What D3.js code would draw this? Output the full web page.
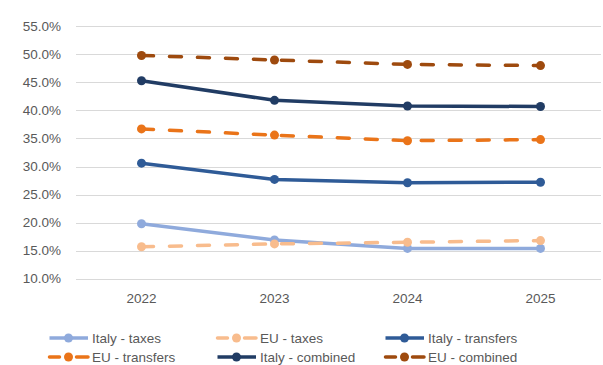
<!DOCTYPE html>
<meta charset="utf-8">
<style>
body { margin: 0; background: #fff; }
text { font-family: "Liberation Sans", Arial, sans-serif; fill: #595959; }
.grid line { stroke: #d9d9d9; stroke-width: 1; }
.series { fill: none; stroke-width: 3.5; stroke-linejoin: round; }
</style>
<svg width="603" height="365"></svg>
<script src="https://cdnjs.cloudflare.com/ajax/libs/d3/7.8.5/d3.min.js"></script>
<script>

var years = ["2022", "2023", "2024", "2025"];
var yTicks = [10, 15, 20, 25, 30, 35, 40, 45, 50, 55];

var italyTaxes     = [19.8, 16.9, 15.4, 15.4];
var euTaxes        = [15.7, 16.2, 16.5, 16.8];
var italyTransfers = [30.6, 27.7, 27.1, 27.2];
var euTransfers    = [36.7, 35.6, 34.6, 34.8];
var italyCombined  = [45.3, 41.8, 40.8, 40.7];
var euCombined     = [49.8, 49.0, 48.2, 48.0];

var seriesNames = ["Italy - taxes", "EU - taxes", "Italy - transfers",
                   "EU - transfers", "Italy - combined", "EU - combined"];

var series = [
  { name: seriesNames[0], values: italyTaxes,     color: "#8faadc", dashed: false },
  { name: seriesNames[1], values: euTaxes,        color: "#f8bc8d", dashed: true },
  { name: seriesNames[2], values: italyTransfers, color: "#2f5b97", dashed: false },
  { name: seriesNames[3], values: euTransfers,    color: "#ea7419", dashed: true },
  { name: seriesNames[4], values: italyCombined,  color: "#213c64", dashed: false },
  { name: seriesNames[5], values: euCombined,     color: "#9e4a0e", dashed: true }
];

var svg = d3.select("svg");

var x = d3.scaleBand()
    .domain(years)
    .range([75, 607]);

var y = d3.scaleLinear()
    .domain([10, 55])
    .range([278.7, 26.3]);

var cx = function(d, i) { return x(years[i]) + x.bandwidth() / 2; };

// gridlines
svg.append("g")
    .attr("class", "grid")
    .selectAll("line")
    .data(yTicks)
    .enter()
    .append("line")
    .attr("x1", 76)
    .attr("x2", 601)
    .attr("y1", function(d) { return Math.round(y(d)) + 0.5; })
    .attr("y2", function(d) { return Math.round(y(d)) + 0.5; });

// y axis labels
svg.append("g")
    .selectAll("text")
    .data(yTicks)
    .enter()
    .append("text")
    .attr("x", 61)
    .attr("y", function(d) { return y(d); })
    .attr("dy", "0.35em")
    .attr("text-anchor", "end")
    .style("font-size", "13.5px")
    .text(function(d) { return d3.format(".1f")(d) + "%"; });

// x axis labels
svg.append("g")
    .selectAll("text")
    .data(years)
    .enter()
    .append("text")
    .attr("x", function(d) { return x(d) + x.bandwidth() / 2; })
    .attr("y", 298)
    .attr("dy", "0.35em")
    .attr("text-anchor", "middle")
    .style("font-size", "13.5px")
    .text(function(d) { return d; });

var line = d3.line()
    .x(cx)
    .y(function(d) { return y(d); });

var g = svg.append("g")
    .selectAll("g")
    .data(series)
    .enter()
    .append("g");

g.append("path")
    .attr("class", "series")
    .attr("d", function(s) { return line(s.values); })
    .attr("stroke", function(s) { return s.color; })
    .attr("stroke-linecap", function(s) { return s.dashed ? "round" : "butt"; })
    .attr("stroke-dasharray", function(s) { return s.dashed ? "12,16" : null; });

g.selectAll("circle")
    .data(function(s) { return s.values.map(function(v) { return { v: v, c: s.color }; }); })
    .enter()
    .append("circle")
    .attr("cx", function(d, i) { return x(years[i]) + x.bandwidth() / 2; })
    .attr("cy", function(d) { return y(d.v); })
    .attr("r", 4.5)
    .attr("fill", function(d) { return d.c; });

// legend
var legendCols = [48, 216, 384];
var legendRows = [338, 357];

var lg = svg.append("g")
    .selectAll("g")
    .data(series)
    .enter()
    .append("g")
    .attr("transform", function(s, i) {
      return "translate(" + legendCols[i % 3] + "," + legendRows[Math.floor(i / 3)] + ")";
    });

lg.append("line")
    .attr("x1", 1.5)
    .attr("x2", 40)
    .attr("y1", 0)
    .attr("y2", 0)
    .attr("stroke", function(s) { return s.color; })
    .attr("stroke-width", 3.5)
    .attr("stroke-linecap", function(s) { return s.dashed ? "round" : "butt"; })
    .attr("stroke-dasharray", function(s) { return s.dashed ? "10,17,12" : null; });

lg.append("circle")
    .attr("cx", 20.5)
    .attr("cy", 0)
    .attr("r", 4.5)
    .attr("fill", function(s) { return s.color; });

lg.append("text")
    .attr("x", 44)
    .attr("y", 0)
    .attr("dy", "0.35em")
    .style("font-size", "13.5px")
    .text(function(s) { return s.name; });

</script>
